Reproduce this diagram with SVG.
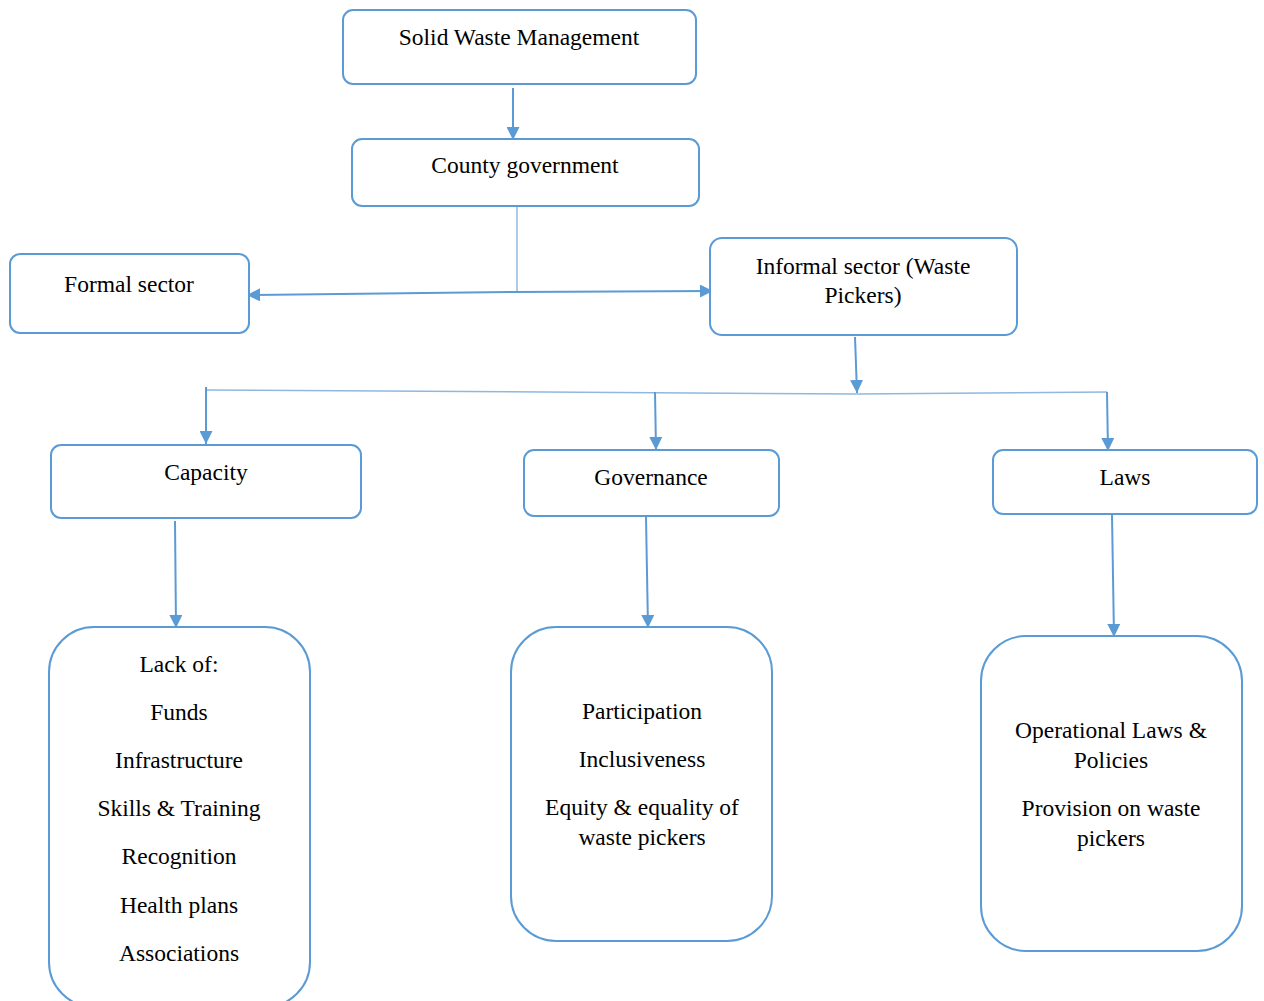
<svg xmlns="http://www.w3.org/2000/svg" width="1264" height="1001" viewBox="0 0 1264 1001">
<style>
.box{fill:#fff;stroke:#5B9BD5;stroke-width:2}
.t{font-family:"Liberation Serif","Times New Roman",serif;font-size:23.5px;fill:#000;text-anchor:middle}
.c{stroke:#5B9BD5;stroke-width:2;fill:none}
.thin{stroke:#8FB8E0;stroke-width:1.5;fill:none}
</style>
<defs>
<marker id="ah" viewBox="0 0 10 10" refX="10" refY="5" markerWidth="6.5" markerHeight="6.5" orient="auto" markerUnits="strokeWidth">
<path d="M0,0 L10,5 L0,10 z" fill="#5B9BD5"/>
</marker>
</defs>
<rect width="1264" height="1001" fill="#fff"/>
<g id="connectors">
<line class="c" x1="513" y1="88" x2="513" y2="140" marker-end="url(#ah)"/>
<line class="thin" x1="517" y1="207" x2="517" y2="292"/>
<line class="c" x1="517" y1="292" x2="247" y2="295" marker-end="url(#ah)"/>
<line class="c" x1="517" y1="292" x2="713" y2="291" marker-end="url(#ah)"/>
<line class="c" x1="855" y1="337" x2="857" y2="393" marker-end="url(#ah)"/>
<polyline class="thin" points="206,390 857,394 1107,392"/>
<line class="c" x1="206" y1="387" x2="206" y2="444" marker-end="url(#ah)"/>
<line class="c" x1="655" y1="392" x2="656" y2="450" marker-end="url(#ah)"/>
<line class="c" x1="1107" y1="392" x2="1108" y2="451" marker-end="url(#ah)"/>
<line class="c" x1="175" y1="521" x2="176" y2="628" marker-end="url(#ah)"/>
<line class="c" x1="646" y1="517" x2="648" y2="628" marker-end="url(#ah)"/>
<line class="c" x1="1112" y1="515" x2="1114" y2="637" marker-end="url(#ah)"/>
</g>
<g id="swm"><rect class="box" x="343" y="10" width="353" height="74" rx="10"/><text class="t" x="519" y="45">Solid Waste Management</text></g>
<g id="county"><rect class="box" x="352" y="139" width="347" height="67" rx="10"/><text class="t" x="525" y="173">County government</text></g>
<g id="formal"><rect class="box" x="10" y="254" width="239" height="79" rx="10"/><text class="t" x="129" y="292">Formal sector</text></g>
<g id="informal"><rect class="box" x="710" y="238" width="307" height="97" rx="12"/><text class="t" x="863" y="274">Informal sector (Waste</text><text class="t" x="863" y="303">Pickers)</text></g>
<g id="capacity"><rect class="box" x="51" y="445" width="310" height="73" rx="10"/><text class="t" x="206" y="480">Capacity</text></g>
<g id="governance"><rect class="box" x="524" y="450" width="255" height="66" rx="10"/><text class="t" x="651" y="485">Governance</text></g>
<g id="laws"><rect class="box" x="993" y="450" width="264" height="64" rx="10"/><text class="t" x="1125" y="485">Laws</text></g>
<g id="capacity-detail"><rect class="box" x="49" y="627" width="261" height="380" rx="45"/>
<text class="t" x="179" y="672">Lack of:</text>
<text class="t" x="179" y="720">Funds</text>
<text class="t" x="179" y="768">Infrastructure</text>
<text class="t" x="179" y="816">Skills &amp; Training</text>
<text class="t" x="179" y="864">Recognition</text>
<text class="t" x="179" y="913">Health plans</text>
<text class="t" x="179" y="961">Associations</text>
</g>
<g id="governance-detail"><rect class="box" x="511" y="627" width="261" height="314" rx="45"/>
<text class="t" x="642" y="719">Participation</text>
<text class="t" x="642" y="767">Inclusiveness</text>
<text class="t" x="642" y="815">Equity &amp; equality of</text>
<text class="t" x="642" y="845">waste pickers</text>
</g>
<g id="laws-detail"><rect class="box" x="981" y="636" width="261" height="315" rx="45"/>
<text class="t" x="1111" y="738">Operational Laws &amp;</text>
<text class="t" x="1111" y="768">Policies</text>
<text class="t" x="1111" y="816">Provision on waste</text>
<text class="t" x="1111" y="846">pickers</text>
</g>
</svg>
